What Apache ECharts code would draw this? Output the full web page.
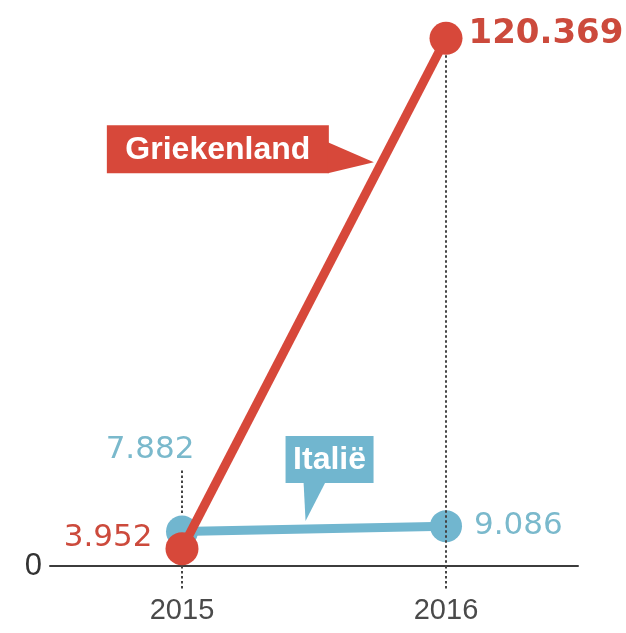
<!DOCTYPE html>
<html><head><meta charset="utf-8">
<script src="https://cdn.jsdelivr.net/npm/echarts@6/dist/echarts.min.js"></script>
<style>html,body{margin:0;padding:0;background:#fff}#c{width:626px;height:633px}</style>
</head><body><div id="c"></div>
<script>
// ---- data ----
const years = ['2015', '2016'];
const griekenland = [3952, 120369];
const italie = [7882, 9086];
const seriesNames = ['Griekenland', 'Italië'];
const yTickLabels = ['0'];

// ---- styles ----
const RED = '#d7483a', RED_TXT = '#cc4a3c', BLUE = '#71b6cf', BLUE_TXT = '#7ab9cc', AXIS = '#3c3c3c';
function fmt(v) { return String(v).replace(/\B(?=(\d{3})+(?!\d))/g, '.'); }

const chart = echarts.init(document.getElementById('c'), null, { renderer: 'canvas' });

const redLabels = [
  { position: 'left', distance: 13, offset: [0, -11], fontSize: 31, fontWeight: 'normal' },
  { position: 'right', distance: 6, offset: [0, -4], fontSize: 34, fontWeight: 'bold' }
];
const blueLabels = [
  { position: 'top', distance: 50, offset: [-32, 0], fontSize: 31, fontWeight: 'normal' },
  { position: 'right', distance: 12, offset: [0, 0], fontSize: 31, fontWeight: 'normal' }
];

function mkData(vals, labels, color) {
  return vals.map((v, i) => ({
    value: v,
    label: Object.assign({ show: true, color: color, fontFamily: 'DejaVu Sans', formatter: () => fmt(v) }, labels[i])
  }));
}

chart.setOption({
  animation: false,
  backgroundColor: '#fff',
  grid: { left: 50, right: 48, top: 18, bottom: 67, containLabel: false },
  xAxis: {
    type: 'category', data: years, boundaryGap: true,
    axisLine: { lineStyle: { color: AXIS, width: 2 } },
    axisTick: { show: true, alignWithLabel: true, length: 24, lineStyle: { color: '#444', width: 2, type: [2.5, 2.5] } },
    axisLabel: { color: '#4a4a4a', fontSize: 29, fontFamily: 'Liberation Sans', margin: 30 },
    splitLine: { show: false }
  },
  yAxis: {
    type: 'value', min: 0, max: 125000, interval: 125000,
    axisLine: { show: false }, axisTick: { show: false }, splitLine: { show: false },
    axisLabel: { color: '#333', fontSize: 31, fontFamily: 'Liberation Sans', margin: 8,
      formatter: v => (v === 0 ? yTickLabels[0] : '') }
  },
  series: [
    { name: seriesNames[1], type: 'line', z: 2, data: mkData(italie, blueLabels, BLUE_TXT),
      symbol: 'circle', symbolSize: 32, clip: false,
      lineStyle: { color: BLUE, width: 9 }, itemStyle: { color: BLUE } },
    { name: seriesNames[0], type: 'line', z: 3, data: mkData(griekenland, redLabels, RED_TXT),
      symbol: 'circle', symbolSize: 33, clip: false,
      lineStyle: { color: RED, width: 9 }, itemStyle: { color: RED } }
  ]
});

// ---- annotations anchored on data points ----
const px = (x, y) => chart.convertToPixel({ gridIndex: 0 }, [x, y]);
const r0 = px(years[0], griekenland[0]), r1 = px(years[1], griekenland[1]);
const b0 = px(years[0], italie[0]), b1 = px(years[1], italie[1]);
const axisY = px(years[0], 0)[1];
const R = 16;

// red callout tip along the Griekenland line
const t = 0.757;
const rt = [r0[0] + (r1[0] - r0[0]) * t - 8, r0[1] + (r1[1] - r0[1]) * t];
const gBox = { x: rt[0] - 267, y: rt[1] - 37, w: 222, h: 48 };
// blue callout tip along the Italië line
const tb = 0.468;
const bt = [b0[0] + (b1[0] - b0[0]) * tb, b0[1] + (b1[1] - b0[1]) * tb - 8];
const iBox = { x: bt[0] - 20, y: bt[1] - 85, w: 88, h: 47 };

const dots = { stroke: '#444', lineWidth: 2, lineDash: [2.5, 2.5] };

chart.setOption({
  graphic: [
    { type: 'line', z: 5, shape: { x1: b0[0], y1: b0[1] - 61, x2: b0[0], y2: b0[1] - R - 2 }, style: dots },
    { type: 'line', z: 5, shape: { x1: r1[0], y1: r1[1] + R + 1, x2: r1[0], y2: axisY }, style: dots },
    { type: 'rect', z: 10, shape: { x: gBox.x, y: gBox.y, width: gBox.w, height: gBox.h }, style: { fill: RED } },
    { type: 'polygon', z: 10, shape: { points: [[gBox.x + gBox.w - 1, gBox.y + 17], rt, [gBox.x + gBox.w - 1, gBox.y + gBox.h]] }, style: { fill: RED } },
    { type: 'text', z: 11, x: gBox.x + gBox.w / 2, y: gBox.y + gBox.h / 2 + 1,
      style: { text: seriesNames[0], fill: '#fff', font: 'bold 32px "Liberation Sans"', align: 'center', verticalAlign: 'middle' } },
    { type: 'rect', z: 10, shape: { x: iBox.x, y: iBox.y, width: iBox.w, height: iBox.h }, style: { fill: BLUE } },
    { type: 'polygon', z: 10, shape: { points: [[bt[0] - 2, iBox.y + iBox.h - 1], [bt[0] + 20, iBox.y + iBox.h - 1], bt] }, style: { fill: BLUE } },
    { type: 'text', z: 11, x: iBox.x + iBox.w / 2, y: iBox.y + iBox.h / 2 + 1,
      style: { text: seriesNames[1], fill: '#fff', font: 'bold 32px "Liberation Sans"', align: 'center', verticalAlign: 'middle' } }
  ]
});
</script>
</body></html>
